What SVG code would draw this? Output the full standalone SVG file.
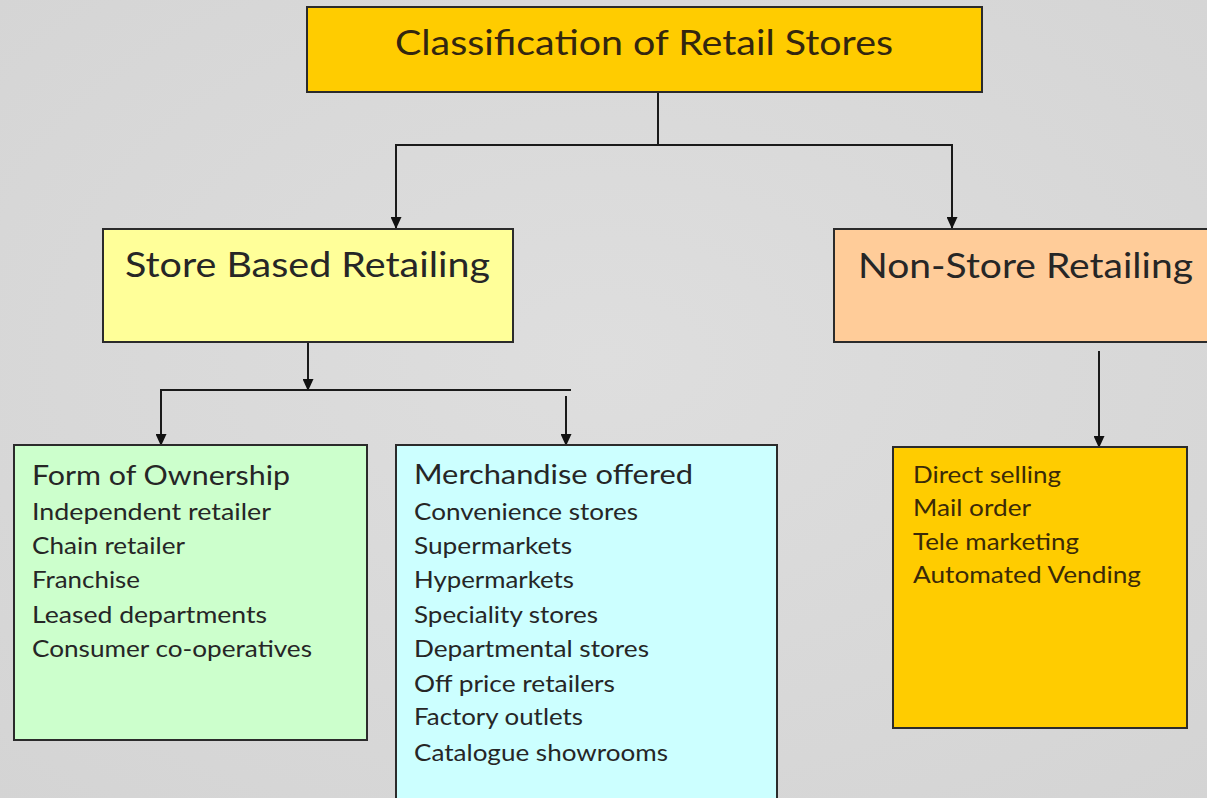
<svg xmlns="http://www.w3.org/2000/svg" width="1207" height="798" viewBox="0 0 1207 798">
<defs>
<marker id="arr" markerWidth="12" markerHeight="11" refX="12" refY="5.5" orient="auto" markerUnits="userSpaceOnUse" viewBox="0 0 12 11">
<path d="M0,0 L12,5.5 L0,11 Z" fill="#111"/>
</marker>
<radialGradient id="bg" cx="0.5" cy="0.45" r="0.75">
<stop offset="0" stop-color="#dedede"/>
<stop offset="1" stop-color="#d4d4d4"/>
</radialGradient>
<style>
.box{stroke:#2b2b2b;stroke-width:2}
.t{font-family:Lato,"Liberation Sans",sans-serif;fill:#262626}
.h1{font-size:34px;fill:#33260f}
.h2{font-size:34px}
.h3{font-size:26px}
.it{font-size:23px}
.br{fill:#3a2a08}
.c{fill:none;stroke:#1a1a1a;stroke-width:2}
</style>
</defs>
<rect width="1207" height="798" fill="url(#bg)"/>
<g id="connectors">
<path class="c" d="M658,92 V145 M395,145 H953"/>
<path class="c" d="M396,145 V229" marker-end="url(#arr)"/>
<path class="c" d="M952,145 V229" marker-end="url(#arr)"/>
<path class="c" d="M308,343 V391" marker-end="url(#arr)"/>
<path class="c" d="M160,390 H571"/>
<path class="c" d="M161,390 V446" marker-end="url(#arr)"/>
<path class="c" d="M566,396 V446" marker-end="url(#arr)"/>
<path class="c" d="M1099,351 V448" marker-end="url(#arr)"/>
</g>
<g id="root">
<rect class="box" x="307" y="7" width="675" height="85" fill="#FFCC00"/>
<text class="t h1" x="395" y="55" textLength="498" lengthAdjust="spacingAndGlyphs">Classification of Retail Stores</text>
</g>
<g id="store-based">
<rect class="box" x="103" y="229" width="410" height="113" fill="#FFFF99"/>
<text class="t h2" x="125" y="277" textLength="365" lengthAdjust="spacingAndGlyphs">Store Based Retailing</text>
</g>
<g id="non-store">
<rect class="box" x="834" y="229" width="380" height="113" fill="#FFCC99"/>
<text class="t h2" x="858" y="278" textLength="335" lengthAdjust="spacingAndGlyphs">Non-Store Retailing</text>
</g>
<g id="ownership">
<rect class="box" x="14" y="445" width="353" height="295" fill="#CCFFCC"/>
<text class="t h3" x="32" y="485" textLength="258" lengthAdjust="spacingAndGlyphs">Form of Ownership</text>
<text class="t it" x="32" y="520" textLength="239" lengthAdjust="spacingAndGlyphs">Independent retailer</text>
<text class="t it" x="32" y="554" textLength="153" lengthAdjust="spacingAndGlyphs">Chain retailer</text>
<text class="t it" x="32" y="588" textLength="108" lengthAdjust="spacingAndGlyphs">Franchise</text>
<text class="t it" x="32" y="623" textLength="235" lengthAdjust="spacingAndGlyphs">Leased departments</text>
<text class="t it" x="32" y="657" textLength="280" lengthAdjust="spacingAndGlyphs">Consumer co-operatives</text>
</g>
<g id="merchandise">
<rect class="box" x="396" y="445" width="381" height="360" fill="#CCFFFF"/>
<text class="t h3" x="414" y="484" textLength="279" lengthAdjust="spacingAndGlyphs">Merchandise offered</text>
<text class="t it" x="414" y="520" textLength="224" lengthAdjust="spacingAndGlyphs">Convenience stores</text>
<text class="t it" x="414" y="554" textLength="158" lengthAdjust="spacingAndGlyphs">Supermarkets</text>
<text class="t it" x="414" y="588" textLength="160" lengthAdjust="spacingAndGlyphs">Hypermarkets</text>
<text class="t it" x="414" y="623" textLength="184" lengthAdjust="spacingAndGlyphs">Speciality stores</text>
<text class="t it" x="414" y="657" textLength="235" lengthAdjust="spacingAndGlyphs">Departmental stores</text>
<text class="t it" x="414" y="692" textLength="201" lengthAdjust="spacingAndGlyphs">Off price retailers</text>
<text class="t it" x="414" y="725" textLength="169" lengthAdjust="spacingAndGlyphs">Factory outlets</text>
<text class="t it" x="414" y="761" textLength="254" lengthAdjust="spacingAndGlyphs">Catalogue showrooms</text>
</g>
<g id="non-store-types">
<rect class="box" x="893" y="447" width="294" height="281" fill="#FFCC00"/>
<text class="t it br" x="913" y="483" textLength="148" lengthAdjust="spacingAndGlyphs">Direct selling</text>
<text class="t it br" x="913" y="516" textLength="118" lengthAdjust="spacingAndGlyphs">Mail order</text>
<text class="t it br" x="913" y="550" textLength="166" lengthAdjust="spacingAndGlyphs">Tele marketing</text>
<text class="t it br" x="913" y="583" textLength="228" lengthAdjust="spacingAndGlyphs">Automated Vending</text>
</g>
</svg>
